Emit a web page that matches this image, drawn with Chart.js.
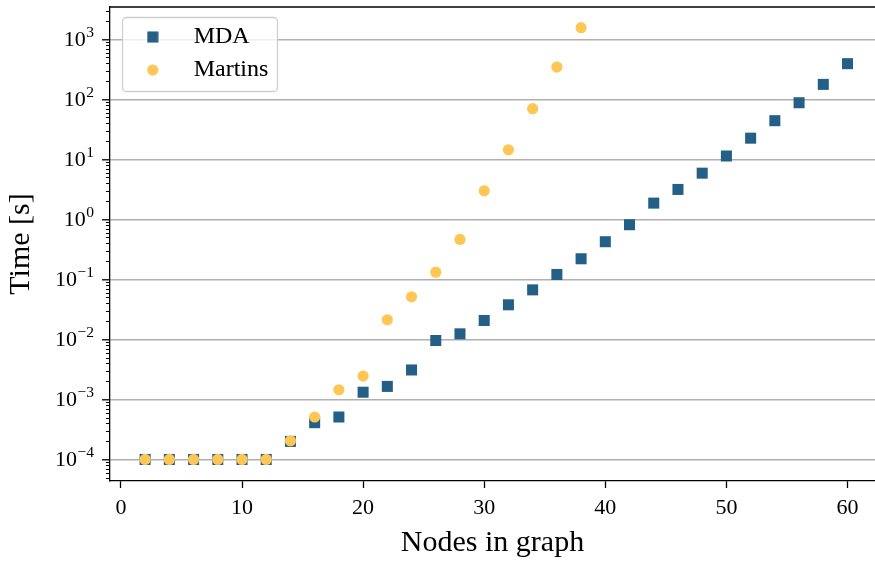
<!DOCTYPE html>
<html><head><meta charset="utf-8">
<script src="https://cdn.jsdelivr.net/npm/chart.js@4/dist/chart.umd.min.js"></script>
<style>
html,body{margin:0;padding:0;overflow:hidden;background:#fff;width:875px;height:562px}
canvas{display:block}
</style></head>
<body><canvas id="c" width="875" height="562" style="width:875px;height:562px"></canvas>
<script>
// ---- data ----
const mdaNodes = [2,4,6,8,10,12,14,16,18,20,22,24,26,28,30,32,34,36,38,40,42,44,46,48,50,52,54,56,58,60];
const mdaTime  = [1e-4,1e-4,1e-4,1e-4,1e-4,1e-4,2.0e-4,4.1e-4,5.1e-4,1.32e-3,1.65e-3,3.1e-3,9.6e-3,1.24e-2,2.07e-2,3.78e-2,6.7e-2,0.121,0.221,0.425,0.816,1.87,3.16,5.9,11.4,22.6,44.2,88,178,394];
const martinsNodes = [2,4,6,8,10,12,14,16,18,20,22,24,26,28,30,32,34,36,38];
const martinsTime  = [1e-4,1e-4,1e-4,1e-4,1e-4,1e-4,2.05e-4,5.1e-4,1.45e-3,2.45e-3,2.13e-2,5.14e-2,0.132,0.464,3.0,14.5,70,346,1567];
const seriesNames = ['MDA','Martins'];
const xTickValues = [0,10,20,30,40,50,60];
const yDecades = [-5,-4,-3,-2,-1,0,1,2,3];
const xLabel = 'Nodes in graph';
const yLabel = 'Time [s]';

const blue = '#245f87';
const yellow = '#fec655';
const FONT = "'Liberation Serif', 'DejaVu Serif', serif";

function markerCanvas(kind, color){
  const c = document.createElement('canvas');
  c.width = 12; c.height = 12;
  const g = c.getContext('2d');
  g.fillStyle = color;
  if (kind === 'rect') { g.fillRect(0.5,0.5,11,11); }
  else { g.beginPath(); g.arc(6,6,5.6,0,Math.PI*2); g.fill(); }
  return c;
}
const legendMarkers = [markerCanvas('rect', blue), markerCanvas('circle', yellow)];

const toPts = (xs, ys) => xs.map((x,i) => ({x, y: ys[i]}));

function placeLegend(chart){
  const lg = chart.legend, a = chart.chartArea;
  const h = lg.bottom - lg.top;
  lg.left = a.left + 4.7; lg.top = a.top + 9; lg.bottom = lg.top + h;
}

const framePlugin = {
  id: 'framePlugin',
  beforeDraw(chart){ placeLegend(chart); },
  beforeDatasetsDraw(chart){
    const lg = chart.legend, ctx = chart.ctx;
    const pad = lg.options.labels.padding;
    const fs = lg.options.labels.font.size;
    const maxW = Math.max(...lg.legendHitBoxes.map(h => h.width));
    const x = lg.left + pad - 2, y = lg.top + 1;
    const w = maxW + 10, h = lg.legendItems.length * (fs + pad) + 8;
    ctx.save();
    ctx.beginPath();
    ctx.roundRect(Math.round(x) + 0.5, Math.round(y) + 0.5, Math.round(w), Math.round(h), 4);
    ctx.fillStyle = 'rgba(255,255,255,0.8)';
    ctx.fill();
    ctx.strokeStyle = '#cfcfcf';
    ctx.lineWidth = 1.3;
    ctx.stroke();
    ctx.restore();
    lg.draw();
  },
  afterDraw(chart){
    const {ctx, chartArea: a, scales} = chart;
    const ys = scales.y;
    ctx.save();
    ctx.strokeStyle = '#000';
    ctx.lineWidth = 1.3;
    ctx.beginPath();
    ctx.moveTo(a.left, a.top); ctx.lineTo(a.right, a.top);
    ctx.stroke();
    // minor y ticks
    ctx.lineWidth = 1;
    ctx.beginPath();
    ys.ticks.forEach(t => {
      if (t.major) return;
      const p = Math.round(ys.getPixelForValue(t.value)) + 0.5;
      ctx.moveTo(a.left - 4, p); ctx.lineTo(a.left, p);
    });
    ctx.stroke();
    // y tick labels: 10 with raised exponent
    ctx.fillStyle = '#000';
    ys.ticks.forEach(t => {
      if (!t.major) return;
      const e = Math.round(Math.log10(t.value));
      const p = ys.getPixelForValue(t.value);
      const expTxt = (e < 0 ? '\u2212' : '') + Math.abs(e);
      const xr = a.left - 16;
      ctx.font = "15.5px " + FONT;
      ctx.textAlign = 'right'; ctx.textBaseline = 'middle';
      ctx.fillText(expTxt, xr, p - 6.5);
      const ew = ctx.measureText(expTxt).width;
      ctx.font = "22px " + FONT;
      ctx.fillText('10', xr - ew - 0.5, p + 0.5);
    });
    ctx.restore();
  }
};

new Chart(document.getElementById('c'), {
  type: 'scatter',
  data: {
    datasets: [
      { label: seriesNames[0], data: toPts(mdaNodes, mdaTime), pointStyle: 'rect', pointRadius: 7.8, pointHoverRadius: 7.8,
        backgroundColor: blue, borderColor: blue, borderWidth: 0, order: 2 },
      { label: seriesNames[1], data: toPts(martinsNodes, martinsTime), pointStyle: 'circle', pointRadius: 5.6, pointHoverRadius: 5.6,
        backgroundColor: yellow, borderColor: yellow, borderWidth: 0, order: 1 }
    ]
  },
  options: {
    responsive: false, animation: false,
    devicePixelRatio: 1,
    layout: { autoPadding: false, padding: { top: 7, right: 0, left: 0, bottom: 0 } },
    plugins: {
      tooltip: { enabled: false },
      legend: {
        position: 'chartArea', align: 'start',
        labels: {
          usePointStyle: true, pointStyleWidth: 58, padding: 9,
          color: '#000', font: { family: FONT, size: 24 },
          generateLabels(chart){
            return chart.data.datasets.map((ds, i) => ({
              text: ds.label, pointStyle: legendMarkers[i], fillStyle: ds.backgroundColor,
              strokeStyle: ds.backgroundColor, lineWidth: 0, hidden: false, datasetIndex: i, fontColor: '#000'
            }));
          }
        }
      }
    },
    scales: {
      x: {
        type: 'linear', min: -0.9, max: 62.27,
        afterBuildTicks(s){ s.ticks = xTickValues.map(v => ({value: v})); },
        afterFit(s){ s.height = 81; s.paddingLeft = 0; s.paddingRight = 0; s.paddingTop = 0; s.paddingBottom = 0; },
        grid: { drawOnChartArea: false, drawTicks: true, tickLength: 7, tickColor: '#000', tickWidth: 1.3 },
        border: { display: true, color: '#000', width: 1.3 },
        ticks: { color: '#000', font: { family: FONT, size: 22 }, padding: 7, maxRotation: 0, autoSkip: false },
        title: { display: true, text: xLabel, color: '#000', font: { family: FONT, size: 30 }, padding: { top: 0, bottom: 1 } }
      },
      y: {
        type: 'logarithmic', min: Math.pow(10, -4.359), max: Math.pow(10, 3.54),
        afterBuildTicks(s){
          const t = [];
          yDecades.forEach(e => { for (let m = 1; m <= 9; m++) { const v = m * Math.pow(10, e); if (v >= s.min && v <= s.max) t.push({value: v, major: m === 1}); } });
          s.ticks = t;
        },
        afterFit(s){ s.width = 110; s.paddingLeft = 0; s.paddingRight = 0; s.paddingTop = 0; s.paddingBottom = 0; },
        grid: {
          drawOnChartArea: true, drawTicks: true, tickLength: 8,
          color: c => (c.tick && c.tick.major) ? '#b0b0b0' : 'rgba(0,0,0,0)',
          lineWidth: 1.6,
          tickColor: c => (c.tick && c.tick.major) ? '#000' : 'rgba(0,0,0,0)',
          tickWidth: 1.3
        },
        border: { display: true, color: '#000', width: 1.3 },
        ticks: { display: false, autoSkip: false },
        title: { display: true, text: yLabel, color: '#000', font: { family: FONT, size: 30 }, padding: { top: 3, bottom: 0 } }
      }
    }
  },
  plugins: [framePlugin]
});
</script>
</body></html>
